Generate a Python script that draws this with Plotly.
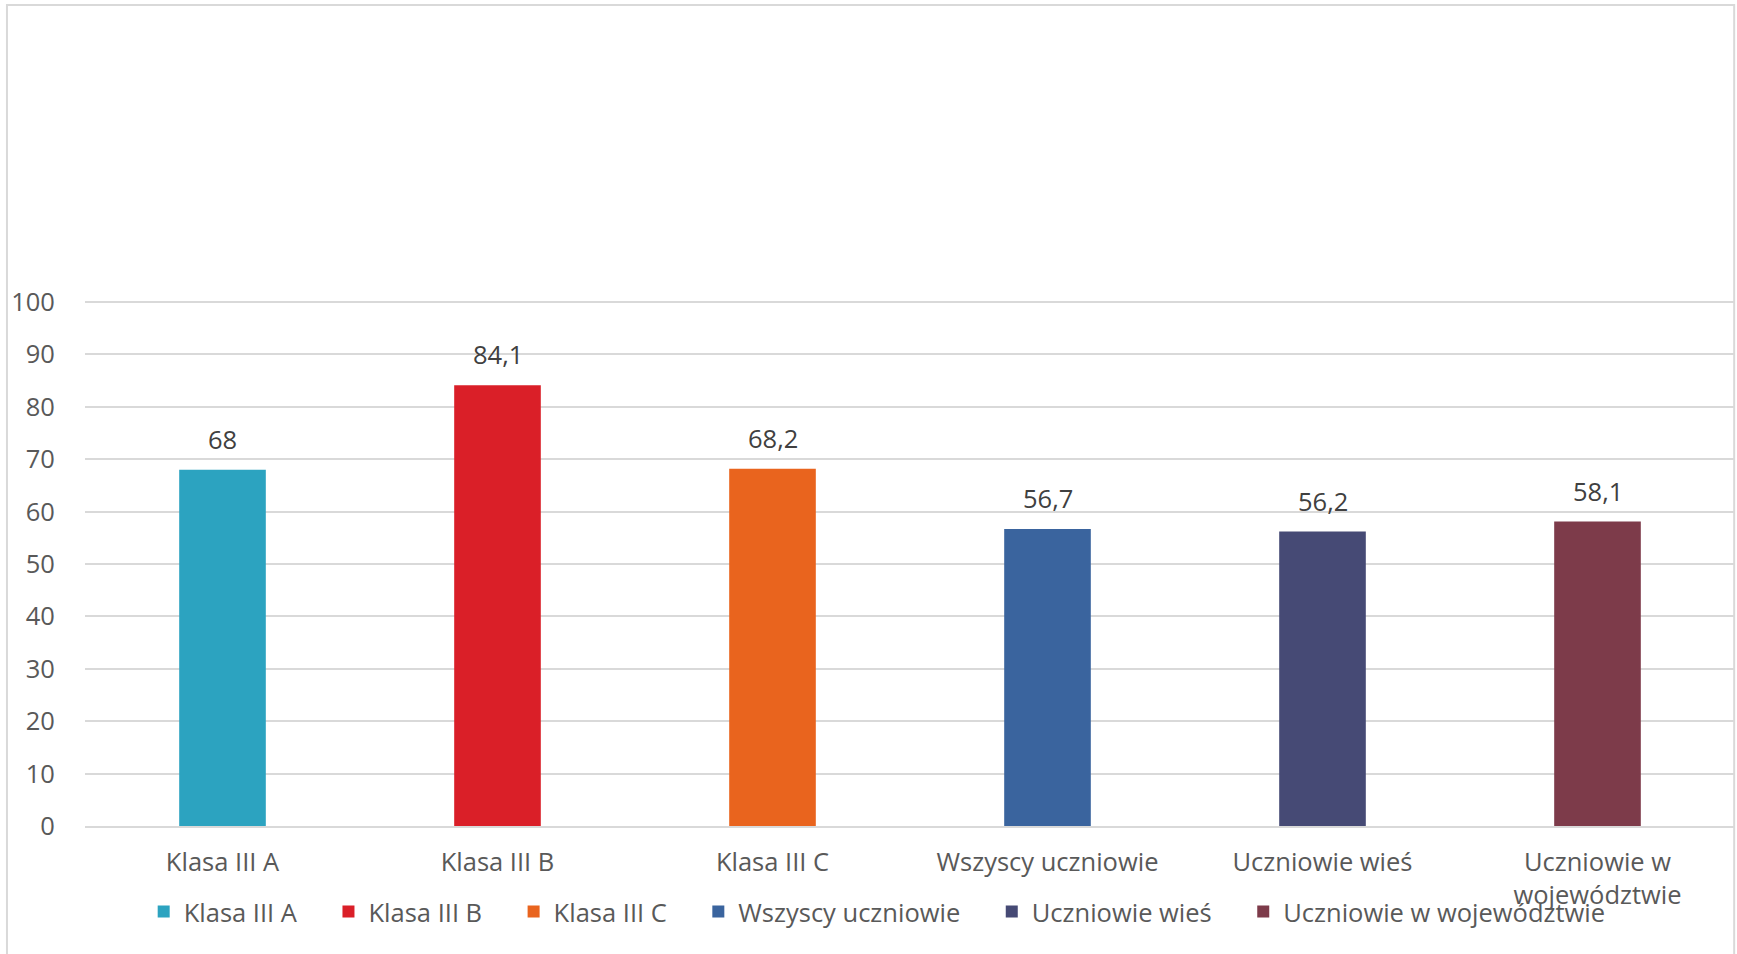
import plotly.graph_objects as go

categories = ["Klasa III A", "Klasa III B", "Klasa III C", "Wszyscy uczniowie", "Uczniowie wieś", "Uczniowie w województwie"]
tick_labels = ["Klasa III A", "Klasa III B", "Klasa III C", "Wszyscy uczniowie", "Uczniowie wieś", "Uczniowie w<br>województwie"]
values = [68, 84.1, 68.2, 56.7, 56.2, 58.1]
colors = ["#2CA3C0", "#DA1F28", "#E9641E", "#3A649E", "#464A75", "#7D3B4A"]
y_ticks = [0, 10, 20, 30, 40, 50, 60, 70, 80, 90, 100]

FONT = "Open Sans"
FS = 25.5
PAD = "\u00a0" * 4

fig = go.Figure()
n = len(categories)
for i, (cat, val, col) in enumerate(zip(categories, values, colors)):
    fig.add_trace(go.Bar(x=[cat], y=[val], name=cat + (PAD if i < n - 1 else ""),
                         marker=dict(color=col, line=dict(width=0)),
                         width=0.315, hoverinfo="skip"))

for cat, val in zip(categories, values):
    fig.add_annotation(x=cat, y=val, text=f"{val:g}".replace(".", ","), showarrow=False,
                       yanchor="bottom", yshift=12, font=dict(family=FONT, size=FS, color="#404040"))

# outer chart border (left, top, right)
fig.add_shape(type="rect", xref="paper", yref="paper", x0=-0.0473, x1=0.9995, y0=-0.4, y1=1.564,
              line=dict(color="#D9D9D9", width=2), fillcolor="rgba(0,0,0,0)", layer="below")

fig.update_layout(
    width=1737, height=954,
    margin=dict(l=85, r=2, t=301, b=128, autoexpand=False),
    paper_bgcolor="white", plot_bgcolor="white",
    barmode="overlay",
    font=dict(family=FONT, size=FS, color="#595959"),
    showlegend=True,
    legend=dict(orientation="h", xref="container", yref="container", x=0.505, xanchor="center",
                y=0.044, yanchor="middle", font=dict(family=FONT, size=FS, color="#595959"),
                bgcolor="rgba(0,0,0,0)", traceorder="normal"),
    xaxis=dict(type="category", categoryorder="array", categoryarray=categories,
               tickmode="array", tickvals=categories, ticktext=tick_labels,
               showline=True, linecolor="#D9D9D9", linewidth=2, showgrid=False,
               ticks="outside", ticklen=12, tickcolor="rgba(0,0,0,0)",
               tickfont=dict(family=FONT, size=FS, color="#595959"), range=[-0.5, 5.5]),
    yaxis=dict(range=[0, 100.2], tickvals=y_ticks, showgrid=True, gridcolor="#D9D9D9", gridwidth=1.5,
               zeroline=False, showline=False, ticks="outside", ticklen=24, tickcolor="rgba(0,0,0,0)",
               tickfont=dict(family=FONT, size=FS, color="#595959")),
)

fig.write_html("out.html", config={"displayModeBar": False},
               post_script="document.body.style.margin='0';document.body.style.overflow='hidden';")
